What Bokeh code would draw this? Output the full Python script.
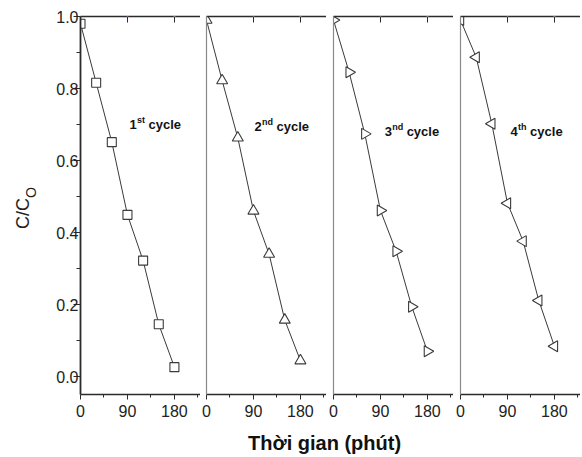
import math
from bokeh.plotting import figure
from bokeh.models import Range1d, FixedTicker, LinearAxis, Label, Div, ColumnDataSource, PrintfTickFormatter
from bokeh.layouts import row, column
from bokeh.embed import file_html
from bokeh.resources import INLINE

# ---- data ----
time_min = [0, 30, 60, 90, 120, 150, 180]
cycle1 = [0.98, 0.816, 0.651, 0.449, 0.322, 0.145, 0.026]
cycle2 = [0.99, 0.822, 0.663, 0.460, 0.340, 0.157, 0.044]
cycle3 = [0.99, 0.845, 0.674, 0.461, 0.348, 0.194, 0.070]
cycle4 = [0.99, 0.887, 0.702, 0.481, 0.376, 0.211, 0.084]
x_ticks = [0, 90, 180]
x_minor = [45, 135, 225]
y_ticks = [0.0, 0.2, 0.4, 0.6, 0.8, 1.0]
y_minor = [0.1, 0.3, 0.5, 0.7, 0.9]
cycle_nums = ["1", "2", "3", "4"]
cycle_sups = ["st", "nd", "nd", "th"]
y_label_main = "C/C"
y_label_sub = "O"
x_label = "Thời gian (phút)"

FONT = "Liberation Sans"
AX = "#2b2b2b"
LINE = "#3a3a3a"

series = [cycle1, cycle2, cycle3, cycle4]
markers = ["square", "triangle", "triangle", "triangle"]
angles = [0, 0, -math.pi / 2, math.pi / 2]
sizes = [9, 11, 11, 11]
YL_W = 40
widths = [200 - YL_W, 126, 127, 127]
lefts = [80 - YL_W, 6, 7, 7]
ann_pos = [(94, 0.70), (92, 0.694), (98, 0.68), (96, 0.68)]
sup_w = [8.5, 11.5, 11.5, 9]

H = 422
panels = []
for i in range(4):
    first = i == 0
    p = figure(width=widths[i], height=H,
               x_range=Range1d(0, 230), y_range=Range1d(-0.05, 1.0),
               output_backend="svg", toolbar_location=None,
               x_axis_location=None, y_axis_location=None,
               min_border_top=16, min_border_bottom=H - 394,
               min_border_right=0, min_border_left=lefts[i])
    p.grid.visible = False
    p.outline_line_color = None
    p.background_fill_color = "white"
    p.border_fill_color = "white"

    # bottom axis
    xb = LinearAxis(ticker=FixedTicker(ticks=x_ticks, minor_ticks=x_minor))
    xb.axis_line_color = AX
    xb.axis_line_width = 1.6
    xb.major_tick_line_color = AX
    xb.minor_tick_line_color = AX
    xb.major_tick_out = 5
    xb.major_tick_in = 0
    xb.minor_tick_out = 3
    xb.minor_tick_in = 0
    xb.major_label_standoff = 5
    xb.major_label_text_font = FONT
    xb.major_label_text_font_size = "16px"
    xb.major_label_text_color = "#222222"
    p.add_layout(xb, "below")

    # top axis (ticks only, no labels)
    xt = LinearAxis(ticker=FixedTicker(ticks=x_ticks, minor_ticks=[]))
    xt.axis_line_color = AX
    xt.axis_line_width = 1.6
    xt.major_tick_line_color = AX
    xt.major_tick_in = 6
    xt.major_tick_out = 0
    xt.minor_tick_in = 0
    xt.minor_tick_out = 0
    xt.major_label_standoff = 0
    xt.major_label_text_font_size = "1px"
    xt.major_label_text_color = "white"
    p.add_layout(xt, "above")

    # left axis
    if first:
        yl = LinearAxis(ticker=FixedTicker(ticks=y_ticks, minor_ticks=y_minor),
                        formatter=PrintfTickFormatter(format="%.1f"))
        yl.axis_line_color = AX
        yl.axis_line_width = 1.8
        yl.major_tick_line_color = AX
        yl.minor_tick_line_color = AX
        yl.major_tick_out = 7
        yl.major_tick_in = 0
        yl.minor_tick_out = 4
        yl.minor_tick_in = 0
        yl.major_label_standoff = -5
        yl.major_label_text_font = FONT
        yl.major_label_text_font_size = "16px"
        yl.major_label_text_color = "#222222"
    else:
        yl = LinearAxis(ticker=FixedTicker(ticks=[], minor_ticks=[]))
        yl.axis_line_color = "#8a8a8a"
        yl.axis_line_width = 1.2
        yl.major_tick_out = 0
        yl.major_tick_in = 0
        yl.minor_tick_out = 0
        yl.minor_tick_in = 0
        yl.major_label_standoff = 0
        yl.major_label_text_font_size = "1px"
    p.add_layout(yl, "left")

    src = ColumnDataSource(dict(x=time_min, y=series[i]))
    p.line("x", "y", source=src, line_color=LINE, line_width=1)
    p.scatter("x", "y", source=src, marker=markers[i], size=sizes[i], angle=angles[i],
              fill_color="white", line_color=LINE, line_width=1.1)

    ax, ay = ann_pos[i]
    p.add_layout(Label(x=ax, y=ay, text=cycle_nums[i], text_font=FONT,
                       text_font_style="bold", text_font_size="13px",
                       text_color="#111111", text_baseline="alphabetic"))
    p.add_layout(Label(x=ax, y=ay, x_offset=7.5, y_offset=5, text=cycle_sups[i],
                       text_font=FONT, text_font_style="bold", text_font_size="9px",
                       text_color="#111111", text_baseline="alphabetic"))
    p.add_layout(Label(x=ax, y=ay, x_offset=7.5 + sup_w[i] + 3, text="cycle",
                       text_font=FONT, text_font_style="bold", text_font_size="13px",
                       text_color="#111111", text_baseline="alphabetic"))
    panels.append(p)

ylab_html = (
    '<span style="position:absolute; left:14px; top:229px; transform:rotate(-90deg);'
    ' transform-origin:0 0; white-space:nowrap; font-family:\'Liberation Sans\';'
    ' font-size:18px; line-height:18px; color:#222222;">'
    + y_label_main
    + '<span style="font-size:14px; position:relative; top:7px;">' + y_label_sub + '</span></span>'
)
ylab = Div(text=ylab_html, width=YL_W, height=H, margin=(0, 0, 0, 0),
           styles={"position": "relative"})

xlab = Div(text=x_label, width=220, height=24, margin=(9, 0, 0, 248),
           styles={"font-family": FONT, "font-weight": "bold", "font-size": "20px",
                   "line-height": "24px", "color": "#111111", "white-space": "nowrap"})

layout = column(row(ylab, *panels), xlab)
open("out.html", "w").write(file_html(layout, INLINE))
